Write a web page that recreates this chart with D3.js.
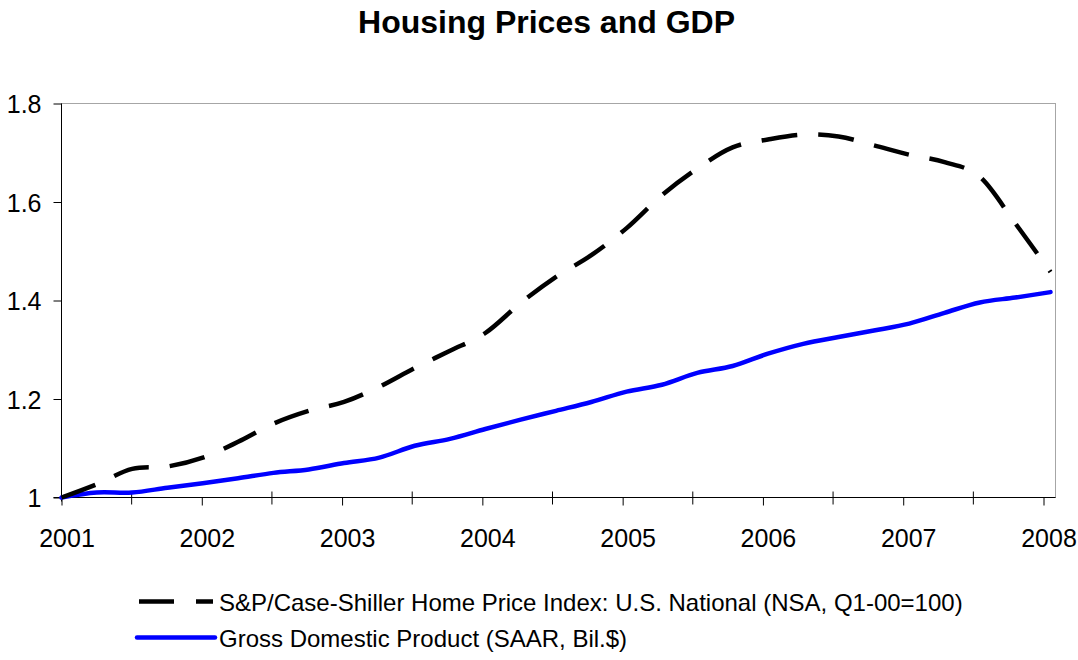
<!DOCTYPE html>
<html>
<head>
<meta charset="utf-8">
<script src="https://cdn.jsdelivr.net/npm/d3@7"></script>
<style>
  body { margin: 0; background: #fff; }
  svg { font-family: "Liberation Sans", Arial, sans-serif; }
</style>
</head>
<body>
<svg></svg>
<script>
// quarterly observations, 2001Q1 .. 2008Q1, indexed to 2001Q1 = 1
const quarters = ["2001Q1","2001Q2","2001Q3","2001Q4","2002Q1","2002Q2","2002Q3","2002Q4",
  "2003Q1","2003Q2","2003Q3","2003Q4","2004Q1","2004Q2","2004Q3","2004Q4",
  "2005Q1","2005Q2","2005Q3","2005Q4","2006Q1","2006Q2","2006Q3","2006Q4",
  "2007Q1","2007Q2","2007Q3","2007Q4","2008Q1"]
const caseShiller = [1.000, 1.027, 1.058, 1.063, 1.081, 1.113, 1.150, 1.176,
  1.194, 1.225, 1.263, 1.298, 1.334, 1.395, 1.448, 1.492,
  1.547, 1.614, 1.668, 1.711, 1.727, 1.737, 1.733, 1.715,
  1.696, 1.681, 1.651, 1.557, 1.458]
const gdp = [1.000, 1.010, 1.010, 1.020, 1.029, 1.039, 1.050, 1.057,
  1.070, 1.081, 1.105, 1.119, 1.139, 1.158, 1.176, 1.194,
  1.215, 1.229, 1.253, 1.267, 1.292, 1.312, 1.326, 1.339,
  1.353, 1.375, 1.396, 1.406, 1.417]
const years = [2001, 2002, 2003, 2004, 2005, 2006, 2007, 2008]
const yTicks = [1, 1.2, 1.4, 1.6, 1.8]
const seriesNames = ["S&P/Case-Shiller Home Price Index: U.S. National (NSA, Q1-00=100)",
  "Gross Domestic Product (SAAR, Bil.$)"]

const W = 1078, H = 660,
  plot = {left: 61.5, right: 1055.5, top: 103.5, bottom: 497.5}

const svg = d3.select("svg").attr("width", W).attr("height", H)

const x = d3.scalePoint().domain(quarters).range([plot.left, 1050.5]),
  xYear = d3.scaleLinear().domain([2001, 2008]).range([plot.left, 1043.5]),
  y = d3.scaleLinear().domain([1, 1.8]).range([plot.bottom, plot.top])

svg.append("text").text("Housing Prices and GDP")
  .attr("x", 546.5).attr("y", 33).style("text-anchor", "middle")
  .style("font-size", "32px").style("font-weight", 700)

// plot area frame (only top/right stay visible under the axes)
svg.append("rect").attr("x", plot.left).attr("y", plot.top)
  .attr("width", plot.right - plot.left).attr("height", plot.bottom - plot.top)
  .style("fill", "none").style("stroke", "#a6a6a6").style("stroke-width", 1)

// y axis
const yAxis = svg.append("g").attr("transform", `translate(${plot.left},0)`)
  .call(d3.axisLeft(y).tickValues(yTicks).tickFormat(String).tickSize(8).tickSizeOuter(0).tickPadding(12))
yAxis.select(".domain").remove()
yAxis.selectAll("text").style("font-size", "25px").style("font-family", null).attr("dy", "0.36em")
yAxis.selectAll("line").style("stroke", "#000")
svg.append("line").attr("x1", plot.left).attr("x2", plot.left).attr("y1", plot.top).attr("y2", plot.bottom + 4)
  .style("stroke", "#000")

// x axis: year ticks hang below, half-year ticks cross the axis
const xAxis = svg.append("g").attr("transform", `translate(0,${plot.bottom})`)
  .call(d3.axisBottom(xYear).tickValues(years).tickFormat(d3.format("d")).tickSize(8).tickSizeOuter(0).tickPadding(24))
xAxis.select(".domain").remove()
xAxis.selectAll("text").style("font-size", "25px").style("font-family", null).attr("dx", 5)
xAxis.selectAll("line").style("stroke", "#000")
xAxis.selectAll("line.half").data(years.slice(0, -1).map(d => d + 0.5)).enter().append("line")
  .attr("class", "half").attr("x1", d => xYear(d)).attr("x2", d => xYear(d))
  .attr("y1", -6).attr("y2", 7).style("stroke", "#000")
svg.append("line").attr("x1", plot.left - 8).attr("x2", plot.right).attr("y1", plot.bottom).attr("y2", plot.bottom)
  .style("stroke", "#000")

const line = d3.line().x((d, i) => x(quarters[i])).y(d => y(d)).curve(d3.curveCardinal.tension(0))

svg.append("path").datum(gdp).attr("d", line)
  .style("fill", "none").style("stroke", "#0000ff").style("stroke-width", 4.5)
  .style("stroke-linejoin", "round").style("stroke-linecap", "round")

svg.append("path").datum(caseShiller).attr("d", line)
  .style("fill", "none").style("stroke", "#000").style("stroke-width", 4.5)
  .style("stroke-dasharray", "36,21")

// legend
const legend = svg.append("g")
legend.append("line").attr("x1", 139).attr("x2", 213).attr("y1", 601.5).attr("y2", 601.5)
  .style("stroke", "#000").style("stroke-width", 4.5).style("stroke-dasharray", "35,22")
legend.append("line").attr("x1", 137).attr("x2", 215).attr("y1", 637.5).attr("y2", 637.5)
  .style("stroke", "#0000ff").style("stroke-width", 4.5).style("stroke-linecap", "round")
legend.selectAll("text.item").data(seriesNames).enter().append("text").attr("class", "item")
  .text(d => d).attr("x", 219).attr("y", (d, i) => 611 + i * 35.5)
  .style("font-size", "24px")
</script>
</body>
</html>
